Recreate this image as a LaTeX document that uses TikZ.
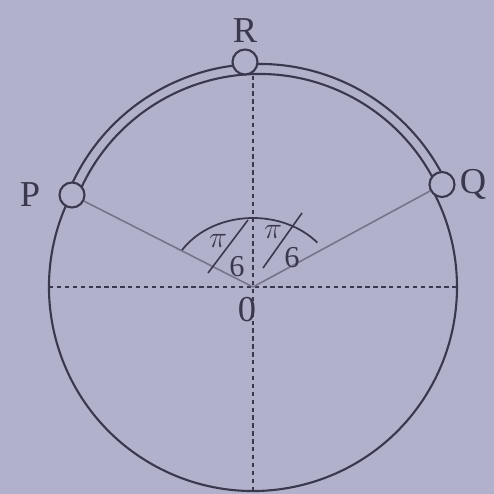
\documentclass[tikz,border=0pt]{standalone}
\usepackage{amsmath}
\usepackage{fontspec}
\setmainfont{Liberation Serif}
\usetikzlibrary{positioning,calc}
\definecolor{paper}{RGB}{178,177,204}
\definecolor{ink}{RGB}{58,56,78}
\definecolor{spoke}{RGB}{118,116,140}

\begin{document}
\begin{tikzpicture}[
    font=\huge,
    bead/.style={circle, draw=ink, fill=paper, line width=1.2pt, minimum size=0.5cm, inner sep=0pt},
    rim/.style={draw=ink, line width=1.2pt},
    axis/.style={draw=ink, line width=1.1pt, dash pattern=on 2.5pt off 2pt},
    spokeline/.style={draw=spoke, line width=0.9pt},
    tag/.style={text=ink, inner sep=0pt},
    angletag/.style={text=ink, inner sep=0pt, font=\LARGE}
  ]
  % sfondo
  \fill[paper] (-5.06,-4.14) rectangle (4.82,5.74);
  \useasboundingbox (-5.06,-4.14) rectangle (4.82,5.74);

  % Punti
  \coordinate (O) at (0,0);
  \coordinate (T) at (0.13,0.33);
  \coordinate (W) at (-4.08,0);
  \coordinate (E) at (4.08,0);
  \coordinate (S) at (0,-4.08);

  % Anello (parte bassa) e tubo
  \draw[rim] (153:4.08) arc[start angle=153, end angle=388.5, radius=4.08];
  \draw[rim] ($(T)+(158:3.93)$) arc[start angle=158, end angle=25.3, radius=3.93];
  \draw[rim] ($(T)+(158:4.13)$) arc[start angle=158, end angle=25.3, radius=4.13];

  % Arco dell'angolo
  \draw[rim, line width=1pt] ($(O)+(148:1.68 and 1.38)$) arc[start angle=148, end angle=40, x radius=1.68, y radius=1.38];

  % Perline
  \node (P) [bead] at (-3.62,1.84) {};
  \node (Q) [bead] at (3.78,2.05) {};
  \node (R) [bead] at (-0.16,4.50) {};

  \node (labP) [tag, left=0.36cm of P] {P};
  \node (labQ) [tag, right=0.08cm of Q] {Q};
  \node (labR) [tag, above=0.12cm of R] {R};
  \node (labO) [tag] at (-0.12,-0.46) {0};

  % Assi tratteggiati
  \draw[axis] (W) -- (E);
  \draw[axis] (S) -- (S |- R.south);

  % Raggi
  \draw[spokeline] (O) -- (P);
  \draw[spokeline] (O) -- (Q);

  % pi/6
  \node (piL) [angletag] at (-0.70,0.92) {$\pi$};
  \node (sixL) [angletag] at (-0.32,0.40) {6};
  \draw[rim, line width=0.9pt] (-0.90,0.28) -- (-0.10,1.34);
  \node (piR) [angletag] at (0.40,1.10) {$\pi$};
  \node (sixR) [angletag] at (0.78,0.58) {6};
  \draw[rim, line width=0.9pt] (0.20,0.38) -- (0.98,1.48);

\end{tikzpicture}
\end{document}
